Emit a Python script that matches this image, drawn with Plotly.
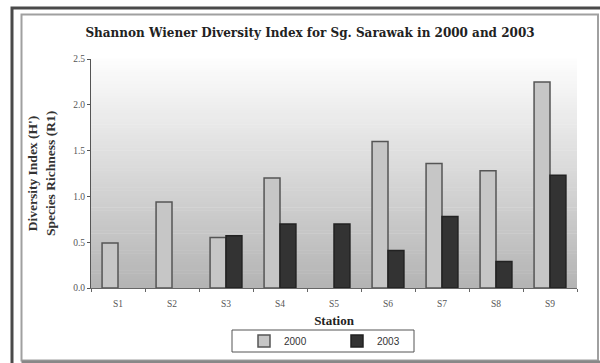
import plotly.graph_objects as go

stations = ["S1", "S2", "S3", "S4", "S5", "S6", "S7", "S8", "S9"]
idx_2000 = [0.49, 0.94, 0.55, 1.20, None, 1.60, 1.36, 1.28, 2.25]
idx_2003 = [None, None, 0.57, 0.70, 0.70, 0.41, 0.78, 0.29, 1.23]
y_ticks = [0.0, 0.5, 1.0, 1.5, 2.0, 2.5]
y_tick_text = ["0.0", "0.5", "1.0", "1.5", "2.0", "2.5"]

W, H = 600, 363
ML, MR, MT, MB = 91, 23, 59, 75
PW, PH = W - ML - MR, H - MT - MB


def px(x):
    return (x - ML) / PW


def py(y):
    return (H - MB - y) / PH


fig = go.Figure()
fig.add_trace(go.Bar(
    x=stations, y=idx_2000, name="2000",
    marker=dict(color="#c6c6c6", line=dict(color="#555555", width=1.5)),
))
fig.add_trace(go.Bar(
    x=stations, y=idx_2003, name="2003",
    marker=dict(color="#333333", line=dict(color="#222222", width=1.5)),
))

shapes = []
# vertical gradient behind the bars
n = 80
top, bot = 253, 180
for i in range(n):
    t = i / (n - 1)
    c = int(round(top + (bot - top) * t))
    shapes.append(dict(
        type="rect", xref="paper", yref="paper", layer="below",
        x0=0, x1=1, y0=1 - (i + 1) / n, y1=1 - i / n + 0.002,
        fillcolor=f"rgb({c},{c},{c})", line=dict(width=0),
    ))
# outer and inner frames
shapes.append(dict(type="rect", xref="paper", yref="paper",
                   x0=px(12), x1=px(612), y0=py(8), y1=py(375),
                   line=dict(color="#4a4a4a", width=3)))
shapes.append(dict(type="rect", xref="paper", yref="paper",
                   x0=px(21.5), x1=px(598), y0=py(14.5), y1=py(360.5),
                   line=dict(color="#a0a0a0", width=2)))
shapes.append(dict(type="line", xref="paper", yref="paper",
                   x0=px(21.5), x1=px(600), y0=py(362), y1=py(362),
                   line=dict(color="#888888", width=3)))
# legend box
shapes.append(dict(type="rect", xref="paper", yref="paper",
                   x0=px(232), x1=px(414), y0=py(330), y1=py(352),
                   line=dict(color="#555555", width=1), fillcolor="white"))

fig.update_layout(
    width=W, height=H,
    margin=dict(l=ML, r=MR, t=MT, b=MB, autoexpand=False),
    paper_bgcolor="white", plot_bgcolor="rgba(0,0,0,0)",
    barmode="group", bargap=0.41, bargroupgap=0,
    shapes=shapes,
    title=dict(
        text="<b>Shannon Wiener Diversity Index for Sg. Sarawak in 2000 and 2003</b>",
        font=dict(family="DejaVu Serif", size=12, color="#222222"),
        x=310 / W, xref="container", xanchor="center",
        y=1 - 33 / H, yanchor="middle",
    ),
    xaxis=dict(
        automargin=False,
        showline=True, linecolor="#666666", linewidth=1,
        ticks="outside", ticklen=3, tickcolor="#666666", tickson="boundaries",
        ticklabelstandoff=7,
        tickfont=dict(family="Liberation Serif", size=9.5, color="#555555"),
        showgrid=False,
        title=dict(text="<b>Station</b>", standoff=7,
                   font=dict(family="Liberation Serif", size=13, color="#222222")),
    ),
    yaxis=dict(
        automargin=False,
        range=[0, 2.5], tickvals=y_ticks, ticktext=y_tick_text,
        showline=True, linecolor="#555555", linewidth=1,
        ticks="outside", ticklen=3, tickcolor="#555555",
        tickfont=dict(family="Liberation Serif", size=9.5, color="#555555"),
        showgrid=False, zeroline=False,
        title=dict(text="<b>Diversity Index (H')<br>Species Richness (R1)</b>", standoff=14,
                   font=dict(family="Liberation Serif", size=13.5, color="#333333")),
    ),
    legend=dict(
        orientation="h", x=px(244), y=py(341), xanchor="left", yanchor="middle",
        borderwidth=0, bgcolor="rgba(0,0,0,0)",
        font=dict(family="Liberation Sans", size=10, color="#333333"),
        entrywidth=48, entrywidthmode="pixels",
        itemwidth=30,
    ),
    showlegend=True,
)

fig.write_html("out.html")
